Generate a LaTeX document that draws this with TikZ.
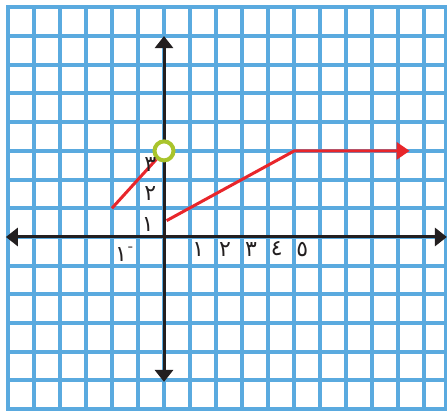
\documentclass[tikz,border=0pt]{standalone}
\usepackage{fontspec}
\newfontfamily\arabicfont[Script=Arabic]{DejaVu Sans}
\TeXXeTstate=1
\usepackage{xcolor}
\definecolor{cGrid}{HTML}{5AAADF}
\definecolor{cAxis}{HTML}{231F20}
\definecolor{cPlot}{HTML}{E8262B}
\definecolor{cHole}{HTML}{A9C42C}
\usepackage{tikz}
\usetikzlibrary{arrows.meta}
\tikzset{
  grid-line/.style={draw=cGrid,line width=4pt,line cap=rect},
  axis-arrow/.style={{Triangle[length=12pt,width=18pt]}-{Triangle[length=12pt,width=18pt]},
    line width=3pt,draw=cAxis},
  plot-line/.style={draw=cPlot,line width=3pt},
  plot-arrow/.style={-{Triangle[length=13pt,width=17pt]},draw=cPlot,line width=3pt},
  hole-mark/.style={circle,draw=cHole,line width=4pt,fill=white,
    minimum size=19pt,inner sep=0pt},
  tick-label/.style={font=\arabicfont\fontsize{22}{22}\selectfont,text=cAxis,inner sep=0pt},
}

\begin{document}
\begin{tikzpicture}[x=26.05pt,y=28.7pt]
  \useasboundingbox (-6.296,-6.167) rectangle (10.864,8.258);
  \fill[white] (-6.296,-6.167) rectangle (10.864,8.258);
  % grid
  \foreach \i in {-6,...,10}
    \draw[grid-line] (\i,-6) -- (\i,8);
  \draw[grid-line] (10.81,-6) -- (10.81,8);
  \foreach \j in {-6,...,8}
    \draw[grid-line] (-6,\j) -- (10.81,\j);
  % axes
  \coordinate (x-left)   at (-6.07,0);
  \coordinate (x-right)  at (10.86,0);
  \coordinate (y-top)    at (0,7);
  \coordinate (y-bottom) at (0,-5.05);
  \draw[axis-arrow] (x-left) -- (x-right);
  \draw[axis-arrow] (y-bottom) -- (y-top);
  % graph
  \coordinate (p-start) at (-2,1);
  \node[hole-mark] (hole) at (0,3) {};
  \draw[plot-line] (p-start) -- (hole);
  \coordinate (q-start) at (0.1,0.57);
  \coordinate (q-bend)  at (5,3);
  \coordinate (q-end)   at (9.43,3);
  \draw[plot-arrow] (q-start) -- (q-bend) -- (q-end);
  % labels
  \node[tick-label] (x-one)   at (1.32,-0.42) {\beginR ١\endR};
  \node[tick-label] (x-two)   at (2.34,-0.42) {\beginR ٢\endR};
  \node[tick-label] (x-three) at (3.34,-0.42) {\beginR ٣\endR};
  \node[tick-label] (x-four)  at (4.33,-0.42) {\beginR ٤\endR};
  \node[tick-label] (x-five)  at (5.31,-0.42) {\beginR ٥\endR};
  \node[tick-label] (x-neg)   at (-1.52,-0.6) {\beginR ١\endR\raisebox{4pt}{\fontsize{14}{14}\selectfont ¯}};
  \node[tick-label] (y-one)   at (-0.62,0.42) {\beginR ١\endR};
  \node[tick-label] (y-two)   at (-0.53,1.53) {\beginR ٢\endR};
  \node[tick-label] (y-three) at (-0.53,2.51) {\beginR ٣\endR};
\end{tikzpicture}
\end{document}
